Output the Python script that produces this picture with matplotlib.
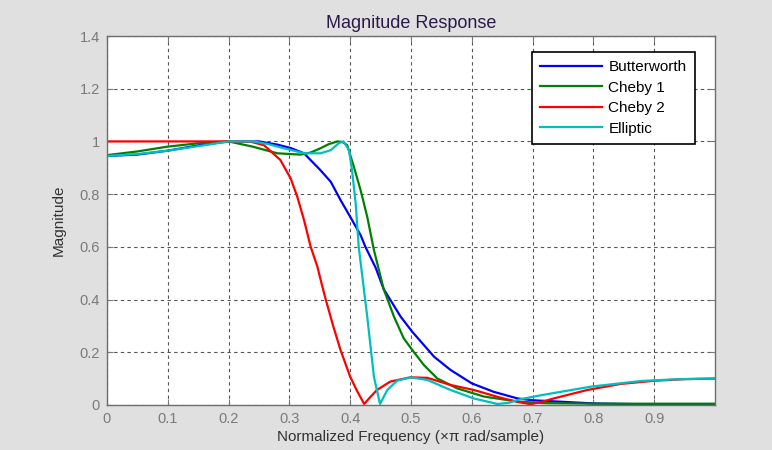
import matplotlib
matplotlib.use("Agg")
import matplotlib.pyplot as plt

# normalized frequency (x pi rad/sample) and magnitude for each filter design
butter_f = [0.0, 0.05, 0.1, 0.15, 0.2, 0.25, 0.28, 0.302, 0.324, 0.351, 0.368, 0.384,
            0.4, 0.417, 0.425, 0.442, 0.455, 0.483, 0.502, 0.538, 0.565, 0.6, 0.636,
            0.675, 0.7, 0.75, 0.8, 0.9, 1.0]
butter_m = [0.945, 0.95, 0.965, 0.985, 1.0, 1.0, 0.988, 0.975, 0.955, 0.891, 0.847, 0.778,
            0.714, 0.645, 0.6, 0.52, 0.44, 0.335, 0.278, 0.183, 0.133, 0.082, 0.05,
            0.025, 0.018, 0.012, 0.006, 0.002, 0.0]

cheby1_f = [0.0, 0.05, 0.099, 0.15, 0.2, 0.24, 0.28, 0.318, 0.335, 0.351, 0.365, 0.379,
            0.387, 0.395, 0.406, 0.417, 0.428, 0.439, 0.455, 0.472, 0.488, 0.502, 0.521,
            0.543, 0.576, 0.62, 0.675, 0.72, 0.8, 0.9, 1.0]
cheby1_m = [0.948, 0.962, 0.98, 0.993, 1.0, 0.98, 0.955, 0.95, 0.958, 0.974, 0.99, 1.0,
            0.998, 0.986, 0.904, 0.816, 0.714, 0.588, 0.44, 0.335, 0.253, 0.209, 0.152,
            0.101, 0.063, 0.032, 0.013, 0.007, 0.005, 0.005, 0.005]

cheby2_f = [0.0, 0.1, 0.2, 0.236, 0.258, 0.285, 0.302, 0.313, 0.324, 0.335, 0.346, 0.353,
            0.36, 0.372, 0.384, 0.4, 0.412, 0.423, 0.433, 0.444, 0.466, 0.499, 0.527,
            0.565, 0.603, 0.647, 0.675, 0.696, 0.715, 0.735, 0.79, 0.845, 0.9, 0.95, 1.0]
cheby2_m = [1.0, 1.0, 1.0, 0.999, 0.986, 0.93, 0.86, 0.79, 0.702, 0.6, 0.525, 0.46,
            0.398, 0.3, 0.209, 0.107, 0.05, 0.004, 0.03, 0.057, 0.089, 0.105, 0.103,
            0.076, 0.057, 0.028, 0.012, 0.003, 0.012, 0.025, 0.057, 0.08, 0.092, 0.098, 0.1]

ellip_f = [0.0, 0.05, 0.1, 0.15, 0.2, 0.241, 0.265, 0.291, 0.324, 0.351, 0.368, 0.381,
           0.389, 0.398, 0.403, 0.409, 0.414, 0.428, 0.439, 0.449, 0.461, 0.477, 0.499,
           0.527, 0.565, 0.603, 0.642, 0.66, 0.68, 0.716, 0.797, 0.878, 0.94, 1.0]
ellip_m = [0.945, 0.952, 0.965, 0.982, 1.0, 1.0, 0.99, 0.974, 0.955, 0.955, 0.967, 0.993,
           1.0, 0.967, 0.891, 0.765, 0.6, 0.335, 0.107, 0.004, 0.057, 0.092, 0.105,
           0.095, 0.057, 0.025, 0.004, 0.008, 0.022, 0.038, 0.07, 0.091, 0.098, 0.101]

labels = ['Butterworth', 'Cheby 1', 'Cheby 2', 'Elliptic']
x_ticks = [0, 0.1, 0.2, 0.3, 0.4, 0.5, 0.6, 0.7, 0.8, 0.9]
x_tick_labels = ['0', '0.1', '0.2', '0.3', '0.4', '0.5', '0.6', '0.7', '0.8', '0.9']
y_ticks = [0, 0.2, 0.4, 0.6, 0.8, 1.0, 1.2, 1.4]
y_tick_labels = ['0', '0.2', '0.4', '0.6', '0.8', '1', '1.2', '1.4']

plt.rcParams['font.family'] = ['Liberation Sans', 'DejaVu Sans']

fig = plt.figure(figsize=(7.72, 4.5), dpi=100)
fig.patch.set_facecolor('#e0e0e0')
ax = fig.add_axes([0.1386, 0.1, 0.7876, 0.82])
ax.set_facecolor('white')

ax.plot(butter_f, butter_m, color='#0000ff', lw=1.6, label=labels[0])
ax.plot(cheby1_f, cheby1_m, color='#008000', lw=1.6, label=labels[1])
ax.plot(cheby2_f, cheby2_m, color='#ff0000', lw=1.6, label=labels[2])
ax.plot(ellip_f, ellip_m, color='#00bfbf', lw=1.6, label=labels[3])

ax.set_xlim(0, 1)
ax.set_ylim(0, 1.4)
ax.set_xticks(x_ticks)
ax.set_xticklabels(x_tick_labels)
ax.set_yticks(y_ticks)
ax.set_yticklabels(y_tick_labels)
ax.tick_params(direction='in', length=4, colors='#7a7a7a', labelsize=10.5,
               top=True, right=True, pad=5)
for s in ax.spines.values():
    s.set_color('#6e6e6e')
    s.set_linewidth(1.0)

ax.grid(True, color='#555555', linestyle=(0, (3, 3)), linewidth=0.8)
ax.set_axisbelow(True)

ax.set_title('Magnitude Response', fontsize=13, color='#2a1a4a', pad=6)
ax.set_xlabel('Normalized Frequency (\u00d7\u03c0 rad/sample)', fontsize=11,
              color='#333333', labelpad=3)
ax.set_ylabel('Magnitude', fontsize=11, color='#333333', labelpad=10)

leg = ax.legend(loc='upper right', bbox_to_anchor=(0.967, 0.957), borderaxespad=0,
                fontsize=11, fancybox=False, framealpha=1, edgecolor='black',
                handlelength=4.0, handletextpad=0.45, borderpad=0.55, labelspacing=0.42)
leg.get_frame().set_linewidth(1.2)

fig.savefig('out.png', dpi=100, facecolor=fig.get_facecolor())
